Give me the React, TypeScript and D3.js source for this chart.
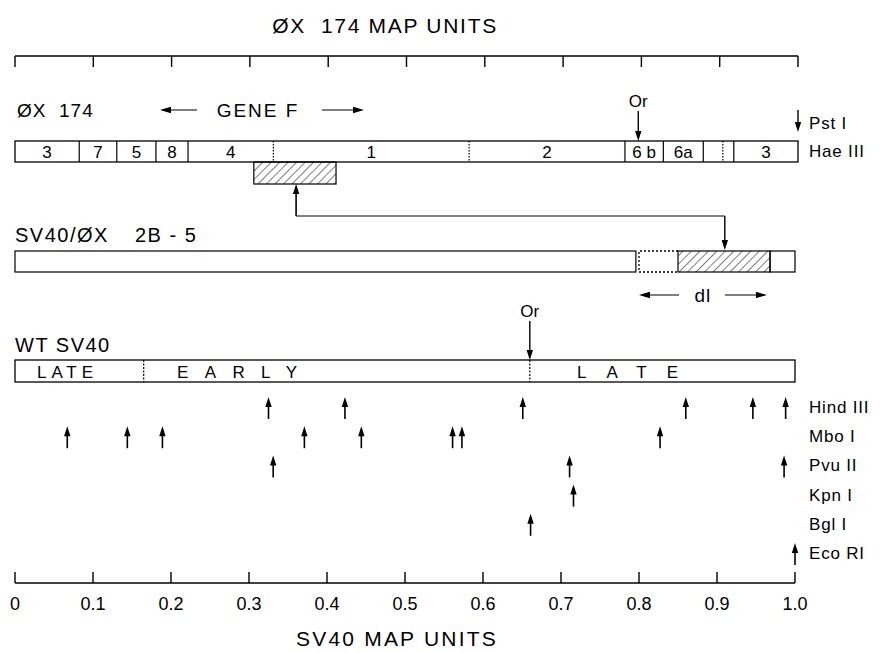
import React from "react";
import * as d3 from "d3";

// ---------- data ----------
const phiTickValues = d3.range(0, 11).map((i) => i / 10);
const sv40TickValues = d3.range(0, 11).map((i) => i / 10);
const sv40TickLabels = ["0", "0.1", "0.2", "0.3", "0.4", "0.5", "0.6", "0.7", "0.8", "0.9", "1.0"];

// Hae III fragments of ØX 174 (map units)
const haeBounds = [0, 0.082, 0.13, 0.18, 0.221, 0.33, 0.58, 0.779, 0.828, 0.879, 0.904, 0.918, 1.0];
const haeLabels = ["3", "7", "5", "8", "4", "1", "2", "6b", "6a", "", "", "3"];
const haeDottedBoundary = [0.33, 0.58, 0.904];
const phiOrigin = 0.796;
const pstI = 1.0;
const insertRange = [0.305, 0.41];
const insertArrowFrom = 0.359;

// SV40/ØX 2B-5 (SV40 map units)
const hybridWhite = [0, 0.796];
const hybridGap = [0.8, 0.85];
const hybridHatched = [0.85, 0.968];
const hybridEnd = [0.968, 1.0];
const dlRange = [0.8, 0.964];
const hybridArrowTo = 0.91;

// WT SV40
const sv40Regions = [
  { name: "LATE", from: 0, to: 0.165 },
  { name: "EARLY", from: 0.165, to: 0.66 },
  { name: "LATE", from: 0.66, to: 1.0 },
];
const sv40Origin = 0.66;

// restriction sites (SV40 map units)
const enzymeNames = ["Hind III", "Mbo I", "Pvu II", "Kpn I", "Bgl I", "Eco RI"];
const hindIIISites = [0.325, 0.423, 0.651, 0.86, 0.946, 0.988];
const mboISites = [0.067, 0.144, 0.189, 0.371, 0.444, 0.561, 0.573, 0.827];
const pvuIISites = [0.331, 0.711, 0.986];
const kpnISites = [0.716];
const bglISites = [0.661];
const ecoRISites = [1.0];
const enzymeSites = [hindIIISites, mboISites, pvuIISites, kpnISites, bglISites, ecoRISites];

// ---------- drawing ----------
const FONT = "'Liberation Sans', Arial, sans-serif";

function UpArrow({ x, y1, y2 }: { x: number; y1: number; y2: number }) {
  return (
    <g>
      <line x1={x} x2={x} y1={y1 + 4} y2={y2} stroke="#000" strokeWidth={1.6} />
      <path d={`M${x},${y1} L${x - 3.2},${y1 + 10} L${x + 3.2},${y1 + 10} Z`} fill="#000" />
    </g>
  );
}
function DownArrow({ x, y1, y2 }: { x: number; y1: number; y2: number }) {
  return (
    <g>
      <line x1={x} x2={x} y1={y1} y2={y2 - 4} stroke="#000" strokeWidth={1.4} />
      <path d={`M${x},${y2} L${x - 3.2},${y2 - 10} L${x + 3.2},${y2 - 10} Z`} fill="#000" />
    </g>
  );
}
function HArrow({ x1, x2, y }: { x1: number; x2: number; y: number }) {
  const dir = x2 > x1 ? 1 : -1;
  return (
    <g>
      <line x1={x1} x2={x2 - dir * 4} y1={y} y2={y} stroke="#000" strokeWidth={1.2} />
      <path d={`M${x2},${y} L${x2 - dir * 11},${y - 3.2} L${x2 - dir * 11},${y + 3.2} Z`} fill="#000" />
    </g>
  );
}

export default function App() {
  const W = 880;
  const H = 653;
  const xPhi = d3.scaleLinear().domain([0, 1]).range([15, 798]);
  const xSv = d3.scaleLinear().domain([0, 1]).range([15, 795]);

  const topAxisY = 56;
  const haeTop = 141;
  const haeBot = 162;
  const insTop = 162;
  const insBot = 184;
  const hybTop = 251;
  const hybBot = 272;
  const wtTop = 360;
  const wtBot = 382;
  const rowTop0 = 397;
  const rowStep = 29.2;
  const botAxisY = 583;

  const stroke = "#000";

  return (
    <svg
      width={W}
      height={H}
      style={{ position: "absolute", left: 0, top: 0, background: "#fff" }}
      fontFamily={FONT}
    >
      <defs>
        <pattern id="hatch" patternUnits="userSpaceOnUse" width={6} height={6} patternTransform="rotate(45)">
          <line x1={0} y1={0} x2={0} y2={6} stroke="#000" strokeWidth={1} />
        </pattern>
      </defs>
      <rect width={W} height={H} fill="#fff" />

      {/* Top title */}
      <text x={385} y={33} fontSize={21} textAnchor="middle" letterSpacing={1.7}>
        ØX&#160;&#160;174 MAP UNITS
      </text>

      {/* Top axis */}
      <line x1={xPhi(0)} x2={xPhi(1)} y1={topAxisY} y2={topAxisY} stroke={stroke} strokeWidth={1.4} />
      {phiTickValues.map((v) => (
        <line key={v} x1={xPhi(v)} x2={xPhi(v)} y1={topAxisY} y2={topAxisY + 11} stroke={stroke} strokeWidth={1.4} />
      ))}

      {/* ØX 174 label and gene F */}
      <text x={17} y={117} fontSize={19} letterSpacing={1}>
        ØX&#160;&#160;174
      </text>
      <HArrow x1={197} x2={160} y={110} />
      <text x={258} y={117} fontSize={19} textAnchor="middle" letterSpacing={2}>
        GENE F
      </text>
      <HArrow x1={322} x2={364} y={110} />

      {/* Origin ØX */}
      <text x={xPhi(phiOrigin)} y={107} fontSize={17} textAnchor="middle">
        Or
      </text>
      <DownArrow x={xPhi(phiOrigin)} y1={111} y2={haeTop} />
      {/* Pst I */}
      <DownArrow x={xPhi(pstI)} y1={110} y2={132} />
      <text x={809} y={129} fontSize={17} letterSpacing={0.8}>
        Pst I
      </text>

      {/* Hae III map */}
      <rect x={xPhi(0)} y={haeTop} width={xPhi(1) - xPhi(0)} height={haeBot - haeTop} fill="none" stroke={stroke} strokeWidth={1.3} />
      {haeBounds.slice(1, -1).map((b) => (
        <line
          key={b}
          x1={xPhi(b)}
          x2={xPhi(b)}
          y1={haeTop}
          y2={haeBot}
          stroke={stroke}
          strokeWidth={1.2}
          strokeDasharray={haeDottedBoundary.includes(b) ? "1.5,1.5" : undefined}
        />
      ))}
      {haeLabels.map((l, i) =>
        l ? (
          <text
            key={i}
            x={(xPhi(haeBounds[i]) + xPhi(haeBounds[i + 1])) / 2}
            y={haeBot - 4}
            fontSize={17}
            textAnchor="middle"
          >
            {l === "6b" ? "6 b" : l}
          </text>
        ) : null
      )}
      <text x={809} y={157} fontSize={17} letterSpacing={0.8}>
        Hae III
      </text>

      {/* insert region (hatched) */}
      <rect
        x={xPhi(insertRange[0])}
        y={insTop}
        width={xPhi(insertRange[1]) - xPhi(insertRange[0])}
        height={insBot - insTop}
        fill="url(#hatch)"
        stroke={stroke}
        strokeWidth={1.2}
      />
      {/* connector */}
      <UpArrow x={xPhi(insertArrowFrom)} y1={insBot} y2={216} />
      <line x1={xPhi(insertArrowFrom)} x2={xSv(hybridArrowTo)} y1={216} y2={216} stroke={stroke} strokeWidth={1.1} />
      <DownArrow x={xSv(hybridArrowTo)} y1={216} y2={hybTop - 1} />

      {/* SV40/ØX 2B-5 */}
      <text x={15} y={242} fontSize={20} letterSpacing={1.5}>
        SV40/ØX
      </text>
      <text x={135} y={242} fontSize={20} letterSpacing={1.5}>
        2B - 5
      </text>
      <rect
        x={xSv(hybridWhite[0])}
        y={hybTop}
        width={xSv(hybridWhite[1]) - xSv(hybridWhite[0])}
        height={hybBot - hybTop}
        fill="none"
        stroke={stroke}
        strokeWidth={1.2}
      />
      <path
        d={`M${xSv(hybridGap[1])},${hybTop} H${xSv(hybridGap[0])} V${hybBot} H${xSv(hybridGap[1])}`}
        fill="none"
        stroke={stroke}
        strokeWidth={1.3}
        strokeDasharray="2,2"
      />
      <rect
        x={xSv(hybridHatched[0])}
        y={hybTop}
        width={xSv(hybridHatched[1]) - xSv(hybridHatched[0])}
        height={hybBot - hybTop}
        fill="url(#hatch)"
        stroke={stroke}
        strokeWidth={1.2}
      />
      <rect
        x={xSv(hybridEnd[0])}
        y={hybTop}
        width={xSv(hybridEnd[1]) - xSv(hybridEnd[0])}
        height={hybBot - hybTop}
        fill="none"
        stroke={stroke}
        strokeWidth={1.2}
      />
      {/* dl */}
      <HArrow x1={xSv(dlRange[0]) + 40} x2={xSv(dlRange[0])} y={295} />
      <text x={(xSv(dlRange[0]) + xSv(dlRange[1])) / 2} y={302} fontSize={19} textAnchor="middle" letterSpacing={1}>
        dl
      </text>
      <HArrow x1={xSv(dlRange[1]) - 42} x2={xSv(dlRange[1])} y={295} />

      {/* WT SV40 */}
      <text x={15} y={352} fontSize={20} letterSpacing={1.5}>
        WT SV40
      </text>
      <text x={xSv(sv40Origin)} y={317} fontSize={17} textAnchor="middle">
        Or
      </text>
      <DownArrow x={xSv(sv40Origin)} y1={321} y2={wtTop} />
      <rect x={xSv(0)} y={wtTop} width={xSv(1) - xSv(0)} height={wtBot - wtTop} fill="none" stroke={stroke} strokeWidth={1.3} />
      {sv40Regions.slice(1).map((r) => (
        <line key={r.from} x1={xSv(r.from)} x2={xSv(r.from)} y1={wtTop} y2={wtBot} stroke={stroke} strokeWidth={1.2} strokeDasharray="2,1.5" />
      ))}
      <text x={37} y={wtBot - 4} fontSize={17} textLength={56} lengthAdjust="spacing">
        {sv40Regions[0].name}
      </text>
      <text x={177} y={wtBot - 4} fontSize={17} textLength={120} lengthAdjust="spacing">
        {sv40Regions[1].name}
      </text>
      <text x={577} y={wtBot - 4} fontSize={17} textLength={101} lengthAdjust="spacing">
        {sv40Regions[2].name}
      </text>

      {/* restriction sites */}
      {enzymeSites.map((sites, i) => {
        const y1 = rowTop0 + i * rowStep;
        const y2 = y1 + 22;
        return (
          <g key={enzymeNames[i]}>
            {sites.map((s, j) => (
              <UpArrow key={j} x={xSv(s)} y1={y1} y2={y2} />
            ))}
            <text x={809} y={y1 + 16} fontSize={17} letterSpacing={0.8}>
              {enzymeNames[i]}
            </text>
          </g>
        );
      })}

      {/* bottom axis */}
      <line x1={xSv(0)} x2={xSv(1)} y1={botAxisY} y2={botAxisY} stroke={stroke} strokeWidth={1.4} />
      {sv40TickValues.map((v, i) => (
        <g key={v}>
          <line x1={xSv(v)} x2={xSv(v)} y1={botAxisY} y2={botAxisY - 11} stroke={stroke} strokeWidth={1.4} />
          <text x={xSv(v)} y={610} fontSize={18} textAnchor="middle">
            {sv40TickLabels[i]}
          </text>
        </g>
      ))}
      <text x={397} y={646} fontSize={21} textAnchor="middle" letterSpacing={2.2}>
        SV40 MAP UNITS
      </text>
    </svg>
  );
}
